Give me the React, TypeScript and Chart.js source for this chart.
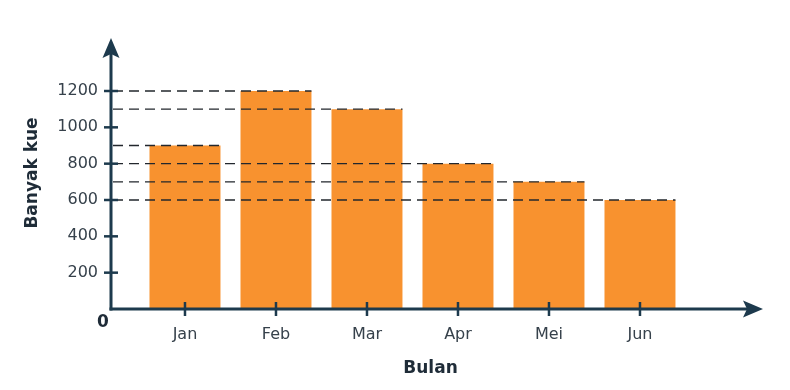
import React, { useEffect, useRef } from "react";
import { Chart, registerables } from "chart.js";

Chart.register(...registerables);

const months = ["Jan", "Feb", "Mar", "Apr", "Mei", "Jun"];
const cakes = [900, 1200, 1100, 800, 700, 600];
const yTickValues = [200, 400, 600, 800, 1000, 1200];
const yTitle = "Banyak kue";
const xTitle = "Bulan";
const originLabel = "0";

const AXIS = "#1d3a4d";
const TEXT = "#36414b";
const TITLE = "#1f2c38";
const BAR = "#F8922F";
const DASH = "#22272d";
const FONT = "'DejaVu Sans', Verdana, sans-serif";

const decorPlugin = {
  id: "decor",
  afterDatasetsDraw(chart: any) {
    const { ctx, chartArea } = chart;
    const meta = chart.getDatasetMeta(0);
    ctx.save();
    ctx.strokeStyle = DASH;
    ctx.lineWidth = 1.3;
    ctx.setLineDash([10, 6]);
    meta.data.forEach((el: any) => {
      ctx.beginPath();
      ctx.moveTo(chartArea.left + 2, el.y);
      ctx.lineTo(el.x + el.width / 2, el.y);
      ctx.stroke();
    });
    ctx.restore();
  },
  afterDraw(chart: any) {
    const { ctx, chartArea, scales } = chart;
    const x = scales.x;
    const y = scales.y;
    const ax = chartArea.left;
    const ay = chartArea.bottom;
    ctx.save();
    ctx.strokeStyle = AXIS;
    ctx.fillStyle = AXIS;
    ctx.lineWidth = 3;
    ctx.lineCap = "butt";
    // y axis
    const yTop = chartArea.top - 53;
    ctx.beginPath();
    ctx.moveTo(ax, ay + 1.5);
    ctx.lineTo(ax, yTop + 12);
    ctx.stroke();
    ctx.beginPath();
    ctx.moveTo(ax, yTop);
    ctx.lineTo(ax - 8.5, yTop + 20);
    ctx.lineTo(ax, yTop + 16);
    ctx.lineTo(ax + 8.5, yTop + 20);
    ctx.closePath();
    ctx.fill();
    // x axis
    const xEnd = chartArea.right + 13;
    ctx.beginPath();
    ctx.moveTo(ax - 1.5, ay);
    ctx.lineTo(xEnd - 12, ay);
    ctx.stroke();
    ctx.beginPath();
    ctx.moveTo(xEnd, ay);
    ctx.lineTo(xEnd - 20, ay - 8.5);
    ctx.lineTo(xEnd - 16, ay);
    ctx.lineTo(xEnd - 20, ay + 8.5);
    ctx.closePath();
    ctx.fill();
    // tick marks
    ctx.lineWidth = 2.5;
    y.ticks.forEach((t: any) => {
      const py = y.getPixelForValue(t.value);
      ctx.beginPath();
      ctx.moveTo(ax - 7, py);
      ctx.lineTo(ax + 7, py);
      ctx.stroke();
    });
    x.ticks.forEach((t: any) => {
      const px = x.getPixelForValue(t.value);
      ctx.beginPath();
      ctx.moveTo(px, ay - 7);
      ctx.lineTo(px, ay + 7);
      ctx.stroke();
    });
    // origin label
    ctx.fillStyle = TITLE;
    ctx.font = `bold 17px ${FONT}`;
    ctx.textAlign = "center";
    ctx.textBaseline = "middle";
    ctx.fillText(originLabel, ax - 8, ay + 14);
    // y title
    ctx.save();
    ctx.translate(33, (chartArea.top + chartArea.bottom) / 2 - 27);
    ctx.rotate(-Math.PI / 2);
    ctx.fillText(yTitle, 0, 0);
    ctx.restore();
    ctx.restore();
  },
};

export default function App() {
  const ref = useRef<HTMLCanvasElement | null>(null);
  useEffect(() => {
    if (!ref.current) return;
    const chart = new Chart(ref.current, {
      type: "bar",
      data: {
        datasets: [
          {
            data: cakes.map((v, i) => ({ x: i, y: v })),
            backgroundColor: BAR,
            borderWidth: 0,
            barPercentage: 0.78,
            categoryPercentage: 1,
          },
        ],
      },
      options: {
        responsive: false,
        animation: false,
        events: [],
        layout: { padding: { top: 91, right: 40, left: 0, bottom: 0 } },
        plugins: { legend: { display: false }, tooltip: { enabled: false } },
        scales: {
          x: {
            type: "linear",
            offset: false,
            min: -0.813,
            max: 6.209,
            grid: { display: false, drawTicks: false, offset: false },
            border: { display: false },
            afterBuildTicks: (s: any) => {
              s.ticks = months.map((_, i) => ({ value: i }));
            },
            afterFit: (s: any) => {
              s.height = 81;
            },
            ticks: {
              padding: 16,
              color: TEXT,
              font: { family: FONT, size: 16 },
              autoSkip: false,
              maxRotation: 0,
              callback: (v: any) => months[v] ?? "",
            },
            title: {
              display: true,
              text: xTitle,
              color: TITLE,
              font: { family: FONT, size: 17, weight: "bold" },
              padding: { top: 0, bottom: 11 },
            },
          },
          y: {
            min: 0,
            max: 1200,
            grid: { display: false, drawTicks: false },
            border: { display: false },
            afterBuildTicks: (s: any) => {
              s.ticks = yTickValues.map((v) => ({ value: v }));
            },
            afterFit: (s: any) => {
              s.width = 111;
            },
            ticks: {
              padding: 13,
              color: TEXT,
              font: { family: FONT, size: 16 },
              callback: (v: any) => String(v),
            },
          },
        },
      },
      plugins: [decorPlugin],
    });
    return () => chart.destroy();
  }, []);
  return (
    <div style={{ position: "absolute", left: 0, top: 0, width: 790, height: 390, background: "#fff" }}>
      <canvas ref={ref} width={790} height={390} />
    </div>
  );
}
